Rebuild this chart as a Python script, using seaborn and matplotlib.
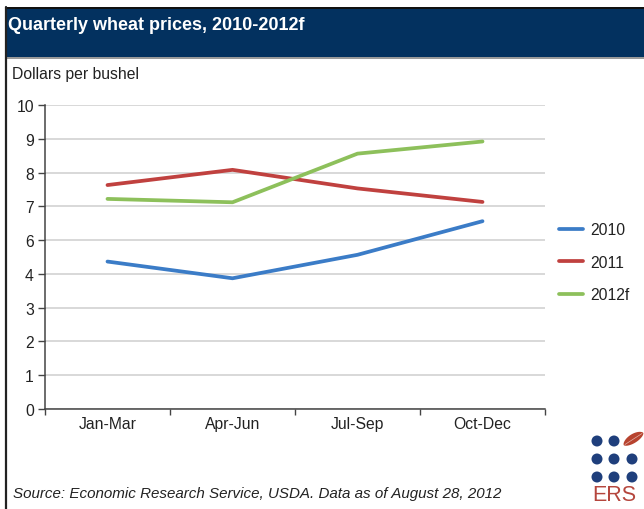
import numpy as np
import pandas as pd
import matplotlib
matplotlib.use("Agg")
import matplotlib.pyplot as plt
import matplotlib.patches as mpatches
from matplotlib.lines import Line2D
import seaborn as sns

# Quarterly prices, dollars per bushel
quarters = ["Jan-Mar", "Apr-Jun", "Jul-Sep", "Oct-Dec"]
prices_2010 = [4.73, 3.87, 5.13, 6.56]
prices_2011 = [7.63, 8.08, 7.53, 7.13]
prices_2012f = [7.22, 7.12, 8.56, 8.92]
series_names = ["2010", "2011", "2012f"]

# Value axis labels (the axis steps evenly through these values)
y_tick_values = [0, 1, 2, 3, 4, 6, 7, 8, 9, 10]

colors = ["#3B7CC7", "#C0413F", "#8DC05B"]
navy = "#03315F"
text_color = "#222222"
fs = 11.3

df = pd.DataFrame({
    "quarter": quarters * 3,
    "price": prices_2010 + prices_2011 + prices_2012f,
    "series": sum([[s] * len(quarters) for s in series_names], []),
})

sns.set_theme(style="white")
plt.rcParams["font.family"] = ["Liberation Sans", "DejaVu Sans"]

W, H = 644, 510
fig = plt.figure(figsize=(W / 100, H / 100), dpi=100)
fig.patch.set_facecolor("white")


def fx(px):
    return px / W


def fy(py):
    return 1 - py / H


# Header band
fig.add_artist(mpatches.Rectangle((fx(5), fy(60)), fx(W - 5), 3 / H,
                                  transform=fig.transFigure, color="#9A9A9A", lw=0))
fig.add_artist(mpatches.Rectangle((fx(5), fy(58)), fx(W - 5), 49 / H,
                                  transform=fig.transFigure, color=navy, lw=0))
fig.add_artist(mpatches.Rectangle((fx(5), fy(10)), fx(W - 5), 2.5 / H,
                                  transform=fig.transFigure, color="#111111", lw=0))
fig.add_artist(Line2D([fx(5.5), fx(5.5)], [fy(8), 0], transform=fig.transFigure,
                      color="#222222", lw=1.6))
fig.text(fx(8), fy(26), "Quarterly wheat prices, 2010-2012f", color="white",
         fontsize=13, fontweight="bold", va="center", ha="left")

fig.text(fx(12), fy(75), "Dollars per bushel", color=text_color, fontsize=fs,
         va="center", ha="left")

# Plot area
ax = fig.add_axes([fx(45), fy(410), fx(545) - fx(45), (410 - 106) / H])

positions = np.arange(len(y_tick_values), dtype=float)
vals = np.array(y_tick_values, dtype=float)


def forward(v):
    return np.interp(v, vals, positions)


def inverse(p):
    return np.interp(p, positions, vals)


ax.set_yscale("function", functions=(forward, inverse))

sns.lineplot(data=df, x="quarter", y="price", hue="series", palette=colors,
             linewidth=2.7, ax=ax, legend=False, sort=False)

ax.set_ylim(0, 10)
ax.set_xlim(-0.5, len(quarters) - 0.5)
ax.set_yticks(y_tick_values)
ax.set_yticklabels([str(v) for v in y_tick_values])
ax.yaxis.set_minor_locator(matplotlib.ticker.NullLocator())
ax.grid(axis="y", color="#D6D6D6", lw=1.3)
ax.set_axisbelow(True)

ax.set_xticks(np.arange(-0.5, len(quarters), 1.0))
ax.set_xticklabels([])
ax.set_xticks(np.arange(len(quarters)), minor=True)
ax.set_xticklabels(quarters, minor=True)
ax.tick_params(axis="x", which="major", direction="out", length=4, width=1,
               color="#444444", bottom=True)
ax.tick_params(axis="x", which="minor", length=0, pad=5, labelsize=fs,
               labelcolor=text_color)
ax.tick_params(axis="y", which="major", direction="out", length=5, width=1,
               color="#444444", left=True, labelsize=fs, labelcolor=text_color,
               pad=3)
ax.set_xlabel("")
ax.set_ylabel("")
for side in ["top", "right"]:
    ax.spines[side].set_visible(False)
for side in ["left", "bottom"]:
    ax.spines[side].set_color("#444444")
    ax.spines[side].set_linewidth(1.1)

handles = [Line2D([], [], color=c, lw=2.7) for c in colors]
fig.legend(handles, series_names, loc="upper left",
           bbox_to_anchor=(fx(553), fy(217)), frameon=False, fontsize=fs,
           handlelength=1.5, handletextpad=0.45, labelspacing=1.12,
           labelcolor=text_color, borderaxespad=0, borderpad=0.4)

fig.text(fx(13), fy(494), "Source: Economic Research Service, USDA. Data as of August 28, 2012",
         fontsize=10.9, style="italic", color=text_color, va="center", ha="left")

# ERS logo: dot grid, leaf and lettering
dot_color = "#1F3F7C"
dot_x = [597, 614, 632]
dot_y = [442, 460, 478]
for j, yy in enumerate(dot_y):
    for i, xx in enumerate(dot_x):
        if i == 2 and j == 0:
            continue
        fig.add_artist(mpatches.Ellipse((fx(xx), fy(yy)), 11 / W, 11 / H,
                                        transform=fig.transFigure, color=dot_color, lw=0))

# pointed leaf outline, rotated towards the upper right
t = np.linspace(0, np.pi, 40)
half_len, half_w, ang = 11.5, 5.0, np.deg2rad(32)
ux = np.concatenate([-half_len * np.cos(t), half_len * np.cos(t)])
uy = np.concatenate([half_w * np.sin(t) ** 1.2, -half_w * np.sin(t) ** 1.2 * 0.8])
cx, cy = 633.5, 440
px = cx + ux * np.cos(ang) - uy * np.sin(ang)
py = cy - (ux * np.sin(ang) + uy * np.cos(ang))
fig.add_artist(mpatches.Polygon(np.column_stack([fx(px), fy(py)]), closed=True,
                                transform=fig.transFigure, color="#B7432F", lw=0))
fig.add_artist(Line2D([fx(625), fx(642)], [fy(445.5), fy(434.5)], transform=fig.transFigure,
                      color="white", lw=0.5, alpha=0.6))
fig.text(fx(614.5), fy(495.5), "ERS", color="#B5463D", fontsize=15.5, ha="center",
         va="center")

fig.savefig("out.png", dpi=100)
